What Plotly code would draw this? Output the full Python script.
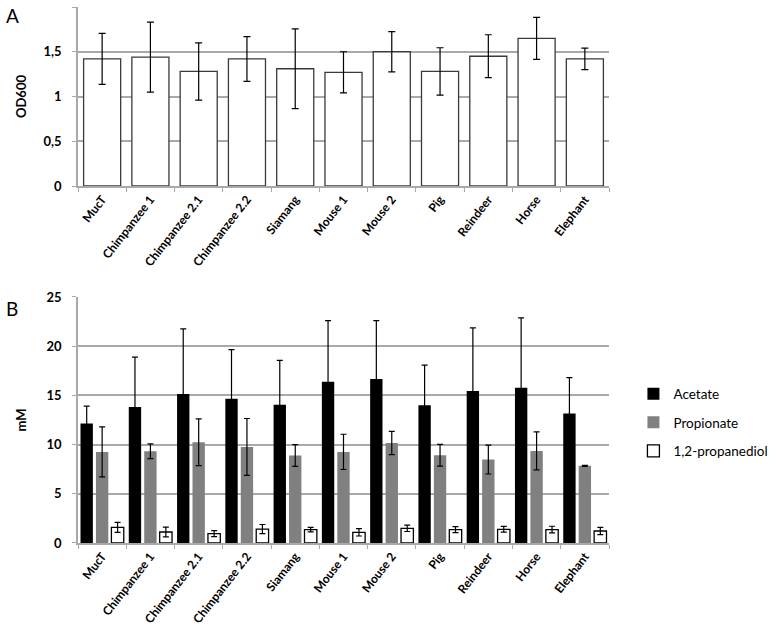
import plotly.graph_objects as go

categories = ["MucT", "Chimpanzee 1", "Chimpanzee 2.1", "Chimpanzee 2.2", "Siamang",
              "Mouse 1", "Mouse 2", "Pig", "Reindeer", "Horse", "Elephant"]

od600 = [1.42, 1.44, 1.28, 1.42, 1.31, 1.27, 1.50, 1.28, 1.45, 1.65, 1.42]
od600_err = [0.285, 0.39, 0.32, 0.25, 0.445, 0.23, 0.225, 0.265, 0.24, 0.235, 0.12]

acetate = [12.14, 13.81, 15.14, 14.66, 14.05, 16.39, 16.67, 14.01, 15.44, 15.78, 13.16]
acetate_err = [1.77, 5.07, 6.61, 5.0, 4.5, 6.21, 5.93, 4.06, 6.42, 7.09, 3.64]

propionate = [9.26, 9.32, 10.24, 9.76, 8.89, 9.26, 10.17, 8.92, 8.48, 9.36, 7.84]
propionate_err = [2.54, 0.75, 2.38, 2.89, 1.11, 1.79, 1.18, 1.1, 1.47, 1.93, 0.05]

propanediol = [1.59, 1.12, 0.95, 1.42, 1.36, 1.09, 1.49, 1.36, 1.39, 1.36, 1.22]
propanediol_err = [0.5, 0.5, 0.31, 0.46, 0.23, 0.38, 0.32, 0.3, 0.29, 0.34, 0.37]

FONT = "Lato, 'Open Sans', sans-serif"
GRID = "#a9a9a9"

fig = go.Figure()

fig.add_trace(go.Bar(
    x=categories, y=od600, name="OD600", showlegend=False,
    marker=dict(color="white", line=dict(color="#3a3a3a", width=1.3)),
    error_y=dict(type="data", array=od600_err, color="black", thickness=1.2, width=3.5),
    xaxis="x", yaxis="y",
))

series = [
    ("Acetate", acetate, acetate_err, "#000000", "#000000", 0),
    ("Propionate", propionate, propionate_err, "#808080", "#808080", 0),
    ("1,2-propanediol", propanediol, propanediol_err, "#ffffff", "#000000", 1.3),
]
for name, vals, errs, fill, line, lw in series:
    fig.add_trace(go.Bar(
        x=categories, y=vals, name=name, legendgroup=name,
        marker=dict(color=fill, line=dict(color=line, width=lw)),
        error_y=dict(type="data", array=errs, color="black", thickness=1.2, width=3),
        xaxis="x2", yaxis="y2",
    ))

tickfont = dict(family=FONT, size=12, color="black", weight="bold")

fig.update_layout(
    template="none",
    width=780, height=628,
    margin=dict(l=78, r=148, t=7, b=85),
    paper_bgcolor="white", plot_bgcolor="white",
    separators=", ",
    font=dict(family=FONT, color="black"),
    barmode="group", bargap=0.04, bargroupgap=0.2,
    xaxis=dict(domain=[0, 1], anchor="y"),
    yaxis=dict(domain=[0.666, 1.0], anchor="x", range=[0, 2], dtick=0.5,
               title=dict(text="OD600", font=dict(family=FONT, size=13, weight="bold"), standoff=14)),
    xaxis2=dict(domain=[0, 1], anchor="y2"),
    yaxis2=dict(domain=[0, 0.459], anchor="x2", range=[0, 25], dtick=5,
                title=dict(text="mM", font=dict(family=FONT, size=13, weight="bold"), standoff=17)),
    legend=dict(x=1.046, y=0.307, xanchor="left", yanchor="top",
                font=dict(family=FONT, size=13.5, color="black"),
                traceorder="grouped", tracegroupgap=8, bgcolor="rgba(0,0,0,0)"),
    annotations=[
        dict(text="A", xref="paper", yref="paper", x=-0.139, y=0.985, xanchor="left",
             yanchor="middle", showarrow=False, font=dict(family=FONT, size=19, color="black")),
        dict(text="B", xref="paper", yref="paper", x=-0.139, y=0.438, xanchor="left",
             yanchor="middle", showarrow=False, font=dict(family=FONT, size=19, color="black")),
    ],
)

fig.update_xaxes(type="category", tickson="boundaries", ticks="outside", ticklen=4,
                 tickcolor=GRID, showline=True, linecolor=GRID, linewidth=1.5,
                 showgrid=False, tickangle=-52, tickfont=tickfont, automargin=False,
                 zeroline=False)
fig.update_yaxes(showline=True, linecolor=GRID, linewidth=1.5, showgrid=True,
                 gridcolor=GRID, gridwidth=1.5, ticks="outside", ticklen=4,
                 tickcolor=GRID, tickfont=dict(family=FONT, size=13, color="black", weight="bold"),
                 zeroline=False, automargin=False, ticklabelstandoff=8)

fig.write_html("out.html", config={"displayModeBar": False},
               post_script="document.body.style.margin='0';")
